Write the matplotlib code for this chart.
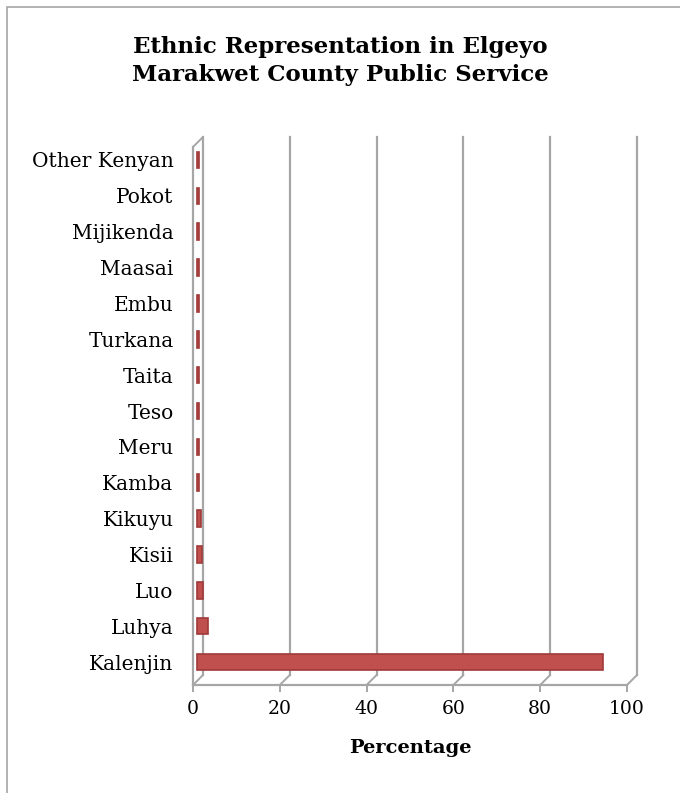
import matplotlib
matplotlib.use("Agg")
import matplotlib.pyplot as plt
import matplotlib.transforms as mtransforms
from matplotlib.patches import Rectangle

categories = ["Kalenjin", "Luhya", "Luo", "Kisii", "Kikuyu", "Kamba", "Meru", "Teso",
              "Taita", "Turkana", "Embu", "Maasai", "Mijikenda", "Pokot", "Other Kenyan"]
values = [93.5, 2.6, 1.3, 1.1, 1.0, 0.4, 0.4, 0.4, 0.4, 0.4, 0.4, 0.4, 0.4, 0.4, 0.4]
xticks = [0, 20, 40, 60, 80, 100]

plt.rcParams['font.family'] = ['DejaVu Serif']

fig = plt.figure(figsize=(6.8, 7.93), dpi=100)
fig.patches.append(Rectangle((7/680, -0.01), 1.0, 1 - 7/793 + 0.01, transform=fig.transFigure,
                             fill=False, edgecolor='#A6A6A6', linewidth=1.2))

ax = fig.add_axes([193/680, 1 - 685/793, (627 - 193)/680, (685 - 147)/793])
n = len(categories)
ax.set_xlim(0, 100)
ax.set_ylim(-0.5, n - 0.5)
for s in ax.spines.values():
    s.set_visible(False)

grid_c = '#A6A6A6'
dx, dy = 10, 10  # depth offset in pixels (approx)
mid = mtransforms.offset_copy(ax.transData, fig=fig, x=dx * 0.4, y=dy * 0.5, units='dots')
ax_back = mtransforms.offset_copy(ax.get_xaxis_transform(), fig=fig, x=dx, y=dy, units='dots')

# back wall gridlines
for xv in xticks:
    ax.plot([xv, xv], [0, 1], transform=ax_back, color=grid_c, lw=1.6, clip_on=False, zorder=1)
# floor diagonals
for xv in xticks:
    ax.annotate('', xy=(xv, 0), xycoords=ax_back, xytext=(xv, 0),
                textcoords=ax.get_xaxis_transform(),
                arrowprops=dict(arrowstyle='-', color=grid_c, lw=1.4,
                                shrinkA=0, shrinkB=0), annotation_clip=False)
# left wall front edge and top diagonal
ax.plot([0, 0], [0, 1], transform=ax.get_xaxis_transform(), color=grid_c, lw=1.6,
        clip_on=False, zorder=1)
ax.annotate('', xy=(0, 1), xycoords=ax_back, xytext=(0, 1),
            textcoords=ax.get_xaxis_transform(),
            arrowprops=dict(arrowstyle='-', color=grid_c, lw=1.4, shrinkA=0, shrinkB=0),
            annotation_clip=False)
# front bottom axis line
ax.plot([0, 100], [0, 0], transform=ax.get_xaxis_transform(), color=grid_c, lw=1.6,
        clip_on=False, zorder=2)

# bars
ypos = list(range(n))
ax.barh(ypos, values, height=0.46, color='#C0504D', edgecolor='#A03A38', linewidth=1.2,
        transform=mid, zorder=3)

ax.set_xticks(xticks)
ax.set_xticklabels([str(v) for v in xticks], fontsize=13.5)
ax.tick_params(axis='x', length=5, color=grid_c, width=1.4, pad=6)
ax.set_yticks(ypos)
ax.set_yticklabels(categories, fontsize=14.5)
ax.tick_params(axis='y', length=0, pad=14)
shift = mtransforms.ScaledTranslation(0, 5/100, fig.dpi_scale_trans)
for lab in ax.get_yticklabels():
    lab.set_transform(lab.get_transform() + shift)

ax.set_xlabel('Percentage', fontsize=14, fontweight='bold', labelpad=15)
fig.text(0.5, 1 - 61/793, 'Ethnic Representation in Elgeyo\nMarakwet County Public Service',
         ha='center', va='center', fontsize=16.5, fontweight='bold', linespacing=1.4)

fig.savefig('out.png', dpi=100)
